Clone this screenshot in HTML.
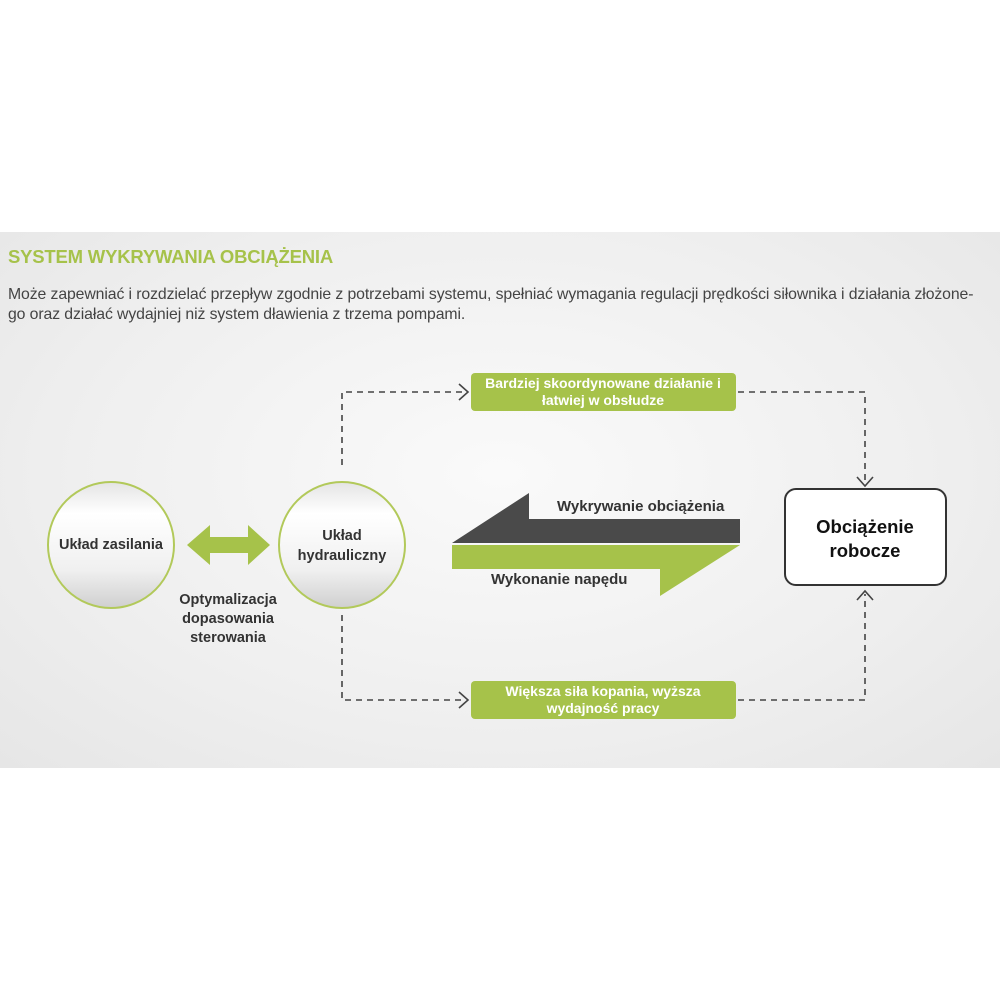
<!DOCTYPE html>
<html><head><meta charset="utf-8"><style>
body{margin:0;width:1000px;height:1000px;background:#fff;position:relative;font-family:"Liberation Sans",sans-serif;overflow:hidden}
.band{position:absolute;left:0;top:232px;width:1000px;height:536px;background:radial-gradient(ellipse at 50% 45%,#fafafa 0%,#efefef 60%,#e6e6e6 100%)}
.t{position:absolute;white-space:nowrap}
</style></head><body>
<div class="band"></div>
<div class="t" style="left:8px;top:246px;font-size:18.5px;font-weight:bold;color:#a6c24a;letter-spacing:-0.2px">SYSTEM WYKRYWANIA OBCIĄŻENIA</div>
<div class="t" style="left:8px;top:285px;font-size:15.8px;color:#444;line-height:20px;letter-spacing:-0.1px">Może zapewniać i rozdzielać przepływ zgodnie z potrzebami systemu, spełniać wymagania regulacji prędkości siłownika i działania złożone-<br>go oraz działać wydajniej niż system dławienia z trzema pompami.</div>
<svg style="position:absolute;left:0;top:0" width="1000" height="1000">
<defs><linearGradient id="cg" x1="0" y1="0" x2="0" y2="1"><stop offset="0" stop-color="#e4e4e4"/><stop offset="0.25" stop-color="#fff"/><stop offset="0.7" stop-color="#f0f0f0"/><stop offset="1" stop-color="#cfcfcf"/></linearGradient></defs>
<circle cx="111" cy="545" r="63" fill="url(#cg)" stroke="#b2c95a" stroke-width="2"/>
<circle cx="342" cy="545" r="63" fill="url(#cg)" stroke="#b2c95a" stroke-width="2"/>
<polygon points="187,545 210,525 210,537 248,537 248,525 270,545 248,565 248,553 210,553 210,565" fill="#a6c24a"/>
<g stroke="#444" stroke-width="1.6" fill="none" stroke-dasharray="6,5">
<polyline points="342,465 342,392 466,392"/>
<polyline points="738,392 865,392 865,484"/>
<polyline points="342,615 342,700 466,700"/>
<polyline points="738,700 865,700 865,594"/>
</g>
<g stroke="#444" stroke-width="1.6" fill="none">
<polyline points="459,384 468,392 459,400"/>
<polyline points="857,477 865,486 873,477"/>
<polyline points="459,692 468,700 459,708"/>
<polyline points="857,600 865,591 873,600"/>
</g>
<rect x="471" y="373" width="265" height="38" rx="4" fill="#a6c24a"/>
<rect x="471" y="681" width="265" height="38" rx="4" fill="#a6c24a"/>
<rect x="785" y="489" width="161" height="96" rx="11" fill="#fff" stroke="#333" stroke-width="2"/>
<polygon points="452,543 529,493 529,519 740,519 740,543" fill="#4a4a4a"/>
<polygon points="452,545 740,545 660,596 660,569 452,569" fill="#a6c24a"/>
</svg>
<div class="t" style="left:111px;top:537px;transform:translateX(-50%);font-size:14.5px;font-weight:bold;color:#333">Układ zasilania</div>
<div class="t" style="left:342px;top:526px;transform:translateX(-50%);font-size:14.5px;font-weight:bold;color:#333;text-align:center;line-height:20px">Układ<br>hydrauliczny</div>
<div class="t" style="left:228px;top:591px;transform:translateX(-50%);font-size:14.5px;font-weight:bold;color:#333;text-align:center;line-height:19px">Optymalizacja<br>dopasowania<br>sterowania</div>
<div class="t" style="left:603px;top:375px;transform:translateX(-50%);font-size:14px;font-weight:bold;color:#fff;text-align:center;line-height:17px">Bardziej skoordynowane działanie i<br>łatwiej w obsłudze</div>
<div class="t" style="left:603px;top:683px;transform:translateX(-50%);font-size:14px;font-weight:bold;color:#fff;text-align:center;line-height:17px">Większa siła kopania, wyższa<br>wydajność pracy</div>
<div class="t" style="left:865px;top:515px;transform:translateX(-50%);font-size:18.5px;font-weight:bold;color:#111;text-align:center;line-height:24px">Obciążenie<br>robocze</div>
<div class="t" style="left:557px;top:498px;font-size:15px;font-weight:bold;color:#333">Wykrywanie obciążenia</div>
<div class="t" style="left:491px;top:571px;font-size:15px;font-weight:bold;color:#333">Wykonanie napędu</div>
</body></html>
